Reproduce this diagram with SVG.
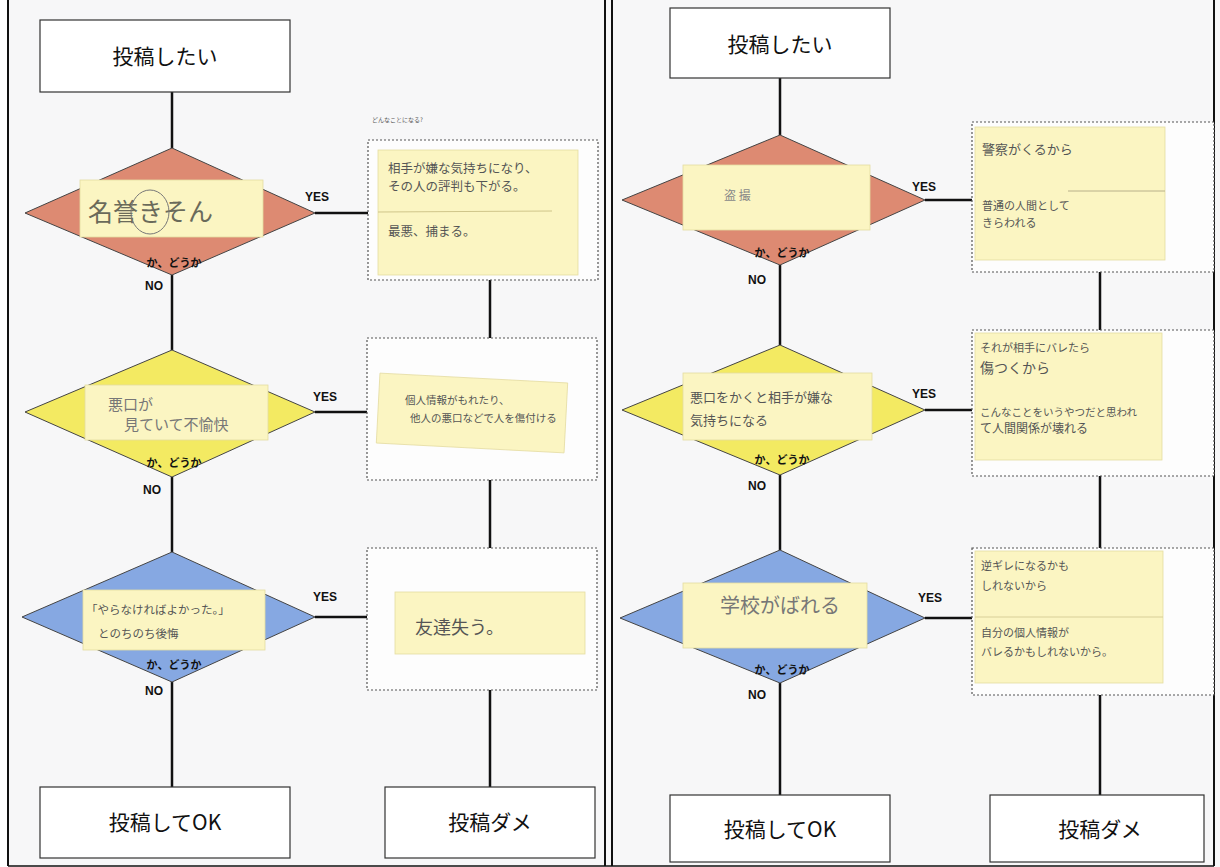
<svg xmlns="http://www.w3.org/2000/svg" width="1220" height="867" viewBox="0 0 1220 867">
<defs>
<style>
.bg{fill:#f7f7f8}
.box{fill:#fff;stroke:#333;stroke-width:1.2}
.title{font-family:"Noto Sans CJK JP","Noto Sans",sans-serif;font-size:21px;fill:#111;text-anchor:middle}
.line{stroke:#111;stroke-width:2.5;fill:none}
.red{fill:#dd8a72;stroke:#444;stroke-width:1}
.yel{fill:#f3ea62;stroke:#444;stroke-width:1}
.blu{fill:#86a8e2;stroke:#444;stroke-width:1}
.note{fill:#fbf5c2;stroke:#e4dca0;stroke-width:0.8}
.dot{fill:#fdfdfd;stroke:#555;stroke-width:1.2;stroke-dasharray:2 2}
.lbl{font-family:"Liberation Sans",Arial,sans-serif;font-weight:bold;font-size:12px;fill:#111}
.kd{font-family:"Noto Sans CJK JP",sans-serif;font-weight:bold;font-size:11px;fill:#111;text-anchor:middle}
.hw{font-family:"Noto Sans CJK JP",sans-serif;fill:#555}
</style>
</defs>
<rect class="bg" x="0" y="0" width="1220" height="867"/>
<rect x="0" y="0" width="8" height="867" fill="#fff"/>
<line x1="8" y1="0" x2="8" y2="866" stroke="#111" stroke-width="2"/>
<line x1="605" y1="0" x2="605" y2="866" stroke="#111" stroke-width="2"/>
<line x1="612" y1="0" x2="612" y2="866" stroke="#111" stroke-width="2"/>
<line x1="1214" y1="0" x2="1214" y2="866" stroke="#111" stroke-width="2"/>
<line x1="8" y1="866" x2="1214" y2="866" stroke="#111" stroke-width="1.5"/>

<g id="connectors">
<path class="line" d="M172 92 V148 M172 275 V350 M172 477 V552 M172 682 V787"/>
<path class="line" d="M315 213 H368 M315 412 H367 M315 617 H367"/>
<path class="line" d="M490 280 V338 M490 480 V548 M490 690 V787"/>
<path class="line" d="M780 78 V135 M780 265 V345 M780 475 V550 M780 683 V795"/>
<path class="line" d="M925 200 H972 M925 410 H972 M925 618 H972"/>
<path class="line" d="M1100 272 V330 M1100 476 V548 M1100 695 V795"/>
</g>

<!-- LEFT PANEL -->
<g id="L-start"><rect class="box" x="40" y="20" width="250" height="72"/><text class="title" x="165" y="64">投稿したい</text></g>

<g id="L-d1">
<polygon class="red" points="172,148 315,213 172,275 25,213"/>
<rect class="note" x="80" y="180" width="183" height="57"/>
<text class="hw" x="88" y="221" style="font-size:25px;fill:#6a6a5a">名誉きそん</text>
<ellipse cx="150" cy="212" rx="19" ry="22" fill="none" stroke="#777" stroke-width="1"/>
<text class="kd" x="174" y="267">か、どうか</text>
<text class="lbl" x="305" y="201">YES</text>
<text class="lbl" x="145" y="290">NO</text>
</g>
<g id="L-r1">
<text class="hw" x="372" y="122" style="font-size:6px">どんなことになる?</text>
<rect class="dot" x="368" y="140" width="230" height="140"/>
<rect class="note" x="378" y="150" width="200" height="125"/>
<line x1="378" y1="212" x2="552" y2="211" stroke="#cfc58a" stroke-width="1"/>
<text class="hw" x="388" y="173" style="font-size:12.5px">相手が嫌な気持ちになり、</text>
<text class="hw" x="388" y="191" style="font-size:12.5px">その人の評判も下がる。</text>
<text class="hw" x="388" y="236" style="font-size:12.5px">最悪、捕まる。</text>
</g>

<g id="L-d2">
<polygon class="yel" points="172,350 315,412 172,477 25,412"/>
<rect class="note" x="85" y="385" width="183" height="55"/>
<text class="hw" x="108" y="410" style="font-size:15px;fill:#777">悪口が</text>
<text class="hw" x="124" y="430" style="font-size:15px;fill:#777">見ていて不愉快</text>
<text class="kd" x="174" y="467">か、どうか</text>
<text class="lbl" x="313" y="401">YES</text>
<text class="lbl" x="143" y="494">NO</text>
</g>
<g id="L-r2">
<rect class="dot" x="367" y="338" width="230" height="142"/>
<rect class="note" x="378" y="378" width="188" height="70" transform="rotate(3 472 413)"/>
<text class="hw" x="405" y="404" style="font-size:10.5px">個人情報がもれたり、</text>
<text class="hw" x="410" y="422" style="font-size:10.5px">他人の悪口などで人を傷付ける</text>
</g>

<g id="L-d3">
<polygon class="blu" points="172,552 315,617 172,682 22,617"/>
<rect class="note" x="83" y="590" width="182" height="60"/>
<text class="hw" x="86" y="614" style="font-size:11.5px">「やらなければよかった。」</text>
<text class="hw" x="98" y="638" style="font-size:11.5px">とのちのち後悔</text>
<text class="kd" x="174" y="669">か、どうか</text>
<text class="lbl" x="313" y="601">YES</text>
<text class="lbl" x="145" y="695">NO</text>
</g>
<g id="L-r3">
<rect class="dot" x="367" y="548" width="230" height="142"/>
<rect class="note" x="395" y="592" width="190" height="62"/>
<text class="hw" x="415" y="634" style="font-size:18px">友達失う。</text>
</g>

<g id="L-ok"><rect class="box" x="40" y="787" width="250" height="71"/><text class="title" x="165" y="830">投稿してOK</text></g>
<g id="L-ng"><rect class="box" x="385" y="787" width="210" height="71"/><text class="title" x="490" y="830">投稿ダメ</text></g>

<!-- RIGHT PANEL -->
<g id="R-start"><rect class="box" x="670" y="8" width="220" height="70"/><text class="title" x="780" y="52">投稿したい</text></g>

<g id="R-d1">
<polygon class="red" points="780,135 925,200 780,265 622,200"/>
<rect class="note" x="683" y="165" width="187" height="65"/>
<text class="hw" x="724" y="200" style="font-size:12px;fill:#888">盗 撮</text>
<text class="kd" x="782" y="257">か、どうか</text>
<text class="lbl" x="912" y="191">YES</text>
<text class="lbl" x="748" y="284">NO</text>
</g>
<g id="R-r1">
<rect class="dot" x="972" y="122" width="242" height="150"/>
<rect class="note" x="975" y="127" width="190" height="133"/>
<line x1="1068" y1="191" x2="1165" y2="191" stroke="#b8b08a" stroke-width="1"/>
<text class="hw" x="982" y="154" style="font-size:13px">警察がくるから</text>
<text class="hw" x="982" y="210" style="font-size:11px">普通の人間として</text>
<text class="hw" x="982" y="227" style="font-size:11px">きらわれる</text>
</g>

<g id="R-d2">
<polygon class="yel" points="780,345 925,410 780,475 622,410"/>
<rect class="note" x="683" y="373" width="189" height="67"/>
<text class="hw" x="690" y="402" style="font-size:13px">悪口をかくと相手が嫌な</text>
<text class="hw" x="690" y="425" style="font-size:13px">気持ちになる</text>
<text class="kd" x="782" y="464">か、どうか</text>
<text class="lbl" x="912" y="398">YES</text>
<text class="lbl" x="748" y="490">NO</text>
</g>
<g id="R-r2">
<rect class="dot" x="972" y="330" width="242" height="146"/>
<rect class="note" x="975" y="333" width="187" height="127"/>
<text class="hw" x="980" y="352" style="font-size:11px">それが相手にバレたら</text>
<text class="hw" x="980" y="373" style="font-size:14px">傷つくから</text>
<text class="hw" x="980" y="416" style="font-size:10.5px">こんなことをいうやつだと思われ</text>
<text class="hw" x="980" y="433" style="font-size:12px">て人間関係が壊れる</text>
</g>

<g id="R-d3">
<polygon class="blu" points="780,550 925,618 780,683 620,618"/>
<rect class="note" x="683" y="583" width="184" height="65"/>
<text class="hw" x="720" y="613" style="font-size:20px;fill:#777">学校がばれる</text>
<text class="kd" x="782" y="674">か、どうか</text>
<text class="lbl" x="918" y="602">YES</text>
<text class="lbl" x="748" y="699">NO</text>
</g>
<g id="R-r3">
<rect class="dot" x="972" y="548" width="242" height="147"/>
<rect class="note" x="975" y="551" width="188" height="132"/>
<line x1="975" y1="617" x2="1163" y2="617" stroke="#d8cf98" stroke-width="1"/>
<text class="hw" x="981" y="570" style="font-size:11px">逆ギレになるかも</text>
<text class="hw" x="981" y="590" style="font-size:11px">しれないから</text>
<text class="hw" x="981" y="637" style="font-size:11px">自分の個人情報が</text>
<text class="hw" x="981" y="656" style="font-size:11px">バレるかもしれないから。</text>
</g>

<g id="R-ok"><rect class="box" x="670" y="795" width="220" height="67"/><text class="title" x="780" y="837">投稿してOK</text></g>
<g id="R-ng"><rect class="box" x="990" y="795" width="214" height="67"/><text class="title" x="1100" y="837">投稿ダメ</text></g>
</svg>
